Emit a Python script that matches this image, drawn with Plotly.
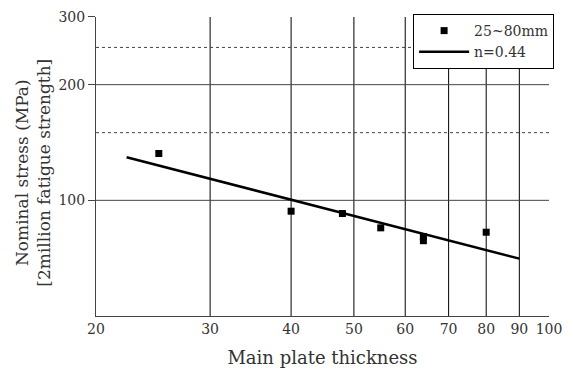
import plotly.graph_objects as go

# Data
thickness = [25, 40, 48, 55, 64, 64, 80]
stress = [132.4, 93.7, 92.4, 84.8, 80.5, 78.5, 82.6]
fit_x = [22.3, 90]
fit_y = [129.5, 70.5]

x_ticks = [20, 30, 40, 50, 60, 70, 80, 90, 100]
y_ticks = [100, 200, 300]
grid_x = [30, 40, 50, 60, 70, 80, 90]
grid_y_solid = [100, 200]
grid_y_dash = [150, 250]

FONT = "DejaVu Serif"
TXT = "#333333"

fig = go.Figure()
fig.add_trace(go.Scatter(x=thickness, y=stress, mode="markers", name="25~80mm",
                         marker=dict(symbol="square", size=7, color="black")))
fig.add_trace(go.Scatter(x=fit_x, y=fit_y, mode="lines", name="n=0.44",
                         line=dict(color="black", width=2.5)))

shapes = []
for gx in grid_x:
    shapes.append(dict(type="line", xref="x", yref="paper", x0=gx, x1=gx, y0=0, y1=1,
                       line=dict(color="black", width=1), layer="below"))
for gy in grid_y_solid:
    shapes.append(dict(type="line", xref="paper", yref="y", x0=0, x1=1, y0=gy, y1=gy,
                       line=dict(color="#444444", width=1), layer="below"))
for gy in grid_y_dash:
    shapes.append(dict(type="line", xref="paper", yref="y", x0=0, x1=1, y0=gy, y1=gy,
                       line=dict(color="#444444", width=1, dash="3px,3px"), layer="below"))

fig.update_layout(
    width=573, height=371,
    margin=dict(l=96, r=24, t=17, b=55),
    paper_bgcolor="white", plot_bgcolor="white",
    font=dict(family=FONT, color=TXT, size=14),
    shapes=shapes,
    showlegend=True,
    legend=dict(x=0.70, y=1.01, xanchor="left", yanchor="top",
                bgcolor="white", bordercolor="black", borderwidth=1,
                font=dict(family=FONT, size=14, color=TXT),
                tracegroupgap=0, itemwidth=50),
    annotations=[dict(text="Nominal stress (MPa)<br>[2million fatigue strength]",
                      xref="paper", yref="paper", x=-0.14, y=0.478,
                      xanchor="center", yanchor="middle", textangle=-90,
                      showarrow=False,
                      font=dict(family=FONT, size=17, color=TXT))],
    xaxis=dict(type="log", range=[1.30103, 2.0], tickvals=x_ticks,
               ticktext=[str(v) for v in x_ticks], automargin=False,
               showgrid=False, zeroline=False, showline=True,
               linecolor="#444444", linewidth=1, ticks="",
               tickfont=dict(family=FONT, size=14, color=TXT),
               title=dict(text="Main plate thickness",
                          font=dict(family=FONT, size=18, color=TXT))),
    yaxis=dict(type="log", range=[1.69897, 2.4771], tickvals=y_ticks,
               ticktext=[str(v) for v in y_ticks], automargin=False,
               showgrid=False, zeroline=False, showline=True,
               linecolor="#444444", linewidth=1, ticks="outside", ticklen=7,
               tickcolor="#444444",
               tickfont=dict(family=FONT, size=14, color=TXT)),
)

fig.write_html("out.html", post_script="document.body.style.margin='0';",
               config={"displayModeBar": False})
